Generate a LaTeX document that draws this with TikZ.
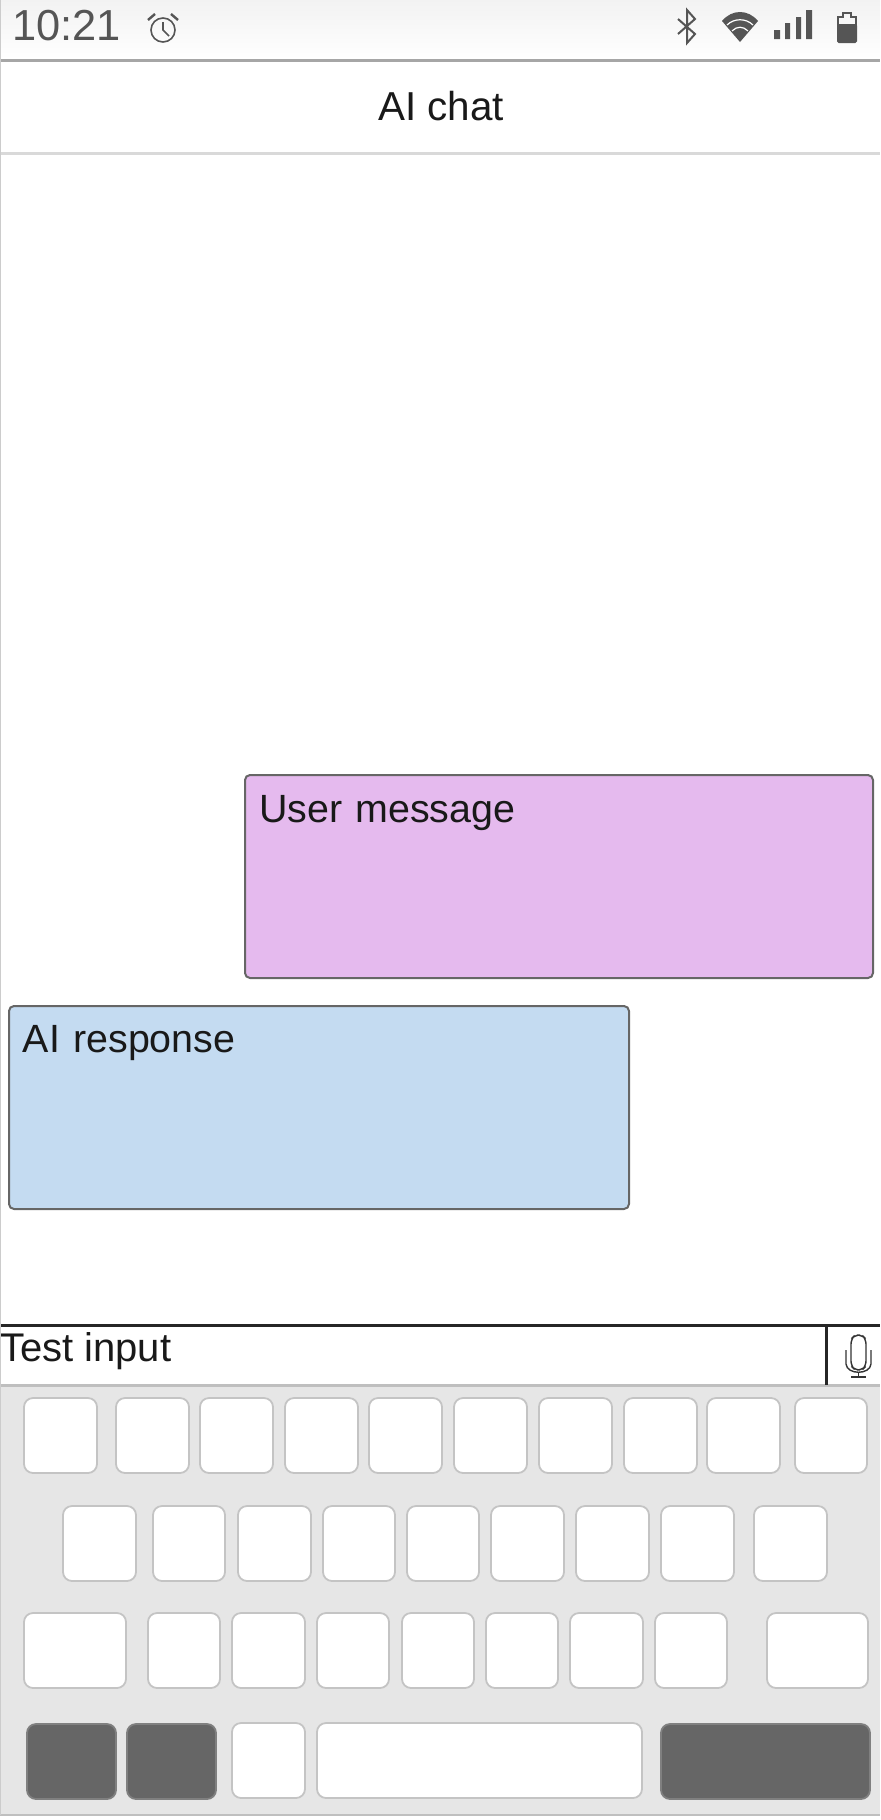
\documentclass[tikz,border=0pt]{standalone}
\usepackage{fontspec}
\setmainfont{Liberation Sans}
\usepackage{tikz}
\definecolor{chatlilac}{RGB}{229,186,238}
\definecolor{chatblue}{RGB}{196,219,241}
\definecolor{keypanel}{RGB}{230,230,230}
\definecolor{keyedge}{RGB}{196,196,196}
\definecolor{icongray}{RGB}{85,85,85}

\begin{document}
\begin{tikzpicture}[
    x=0.5pt, y=-0.5pt,
    every node/.style={inner sep=0pt, outer sep=0pt},
    bubble/.style={draw=black!60, line width=1pt, rounded corners=2.5pt, anchor=north west, align=left, inner xsep=7pt, font=\fontsize{19.7}{23}\selectfont, text=black!90},
    keybox/.style={draw=keyedge, line width=0.9pt, fill=white, rounded corners=4.5pt, anchor=north west, minimum height=37.5pt},
    darkkey/.style={keybox, draw=black!50, fill=black!60},
    barline/.style={line width=1.5pt},
    icon/.style={draw=icongray, line width=0.8pt}
  ]
    \useasboundingbox (0,0) rectangle (880,1820);

    % status bar and title
    \node[anchor=north west, minimum width=440pt, minimum height=29.5pt, top color=black!5, bottom color=white] (statusbar) at (0,0) {};
    \node[anchor=base west, font=\fontsize{21.7}{24}\selectfont, text=icongray] (clock) at (12,40) {10:21};
    \node[font=\fontsize{20.2}{24}\selectfont, text=black!90] (title) at (441,106) {AI chat};
    \draw[barline, draw=black!35] (0,60) -- (880,60);
    \draw[barline, draw=black!15] (0,153) -- (880,153);

    % status icons
    \draw[icon] (163,30) circle (12);
    \draw[icon] (163,22) -- (163,30) -- (169,36);
    \draw[icon, line width=1.2pt] (148,20) -- (155,14);
    \draw[icon, line width=1.2pt] (178,20) -- (171,14);
    \draw[icon, line width=1pt] (678,19) -- (695,34) -- (687,43) -- (687,10) -- (695,19) -- (678,34);
    \fill[icongray] (740,42) -- (722,21) .. controls (732,9) and (748,9) .. (758,21) -- cycle;
    \draw[white, line width=0.6pt] (727,25) .. controls (734,18) and (746,18) .. (753,25);
    \draw[white, line width=0.6pt] (732,31) .. controls (737,26) and (743,26) .. (748,31);
    \fill[icongray] (774,30) rectangle (780,39) (785,23) rectangle (790,39) (796,17) rectangle (801,39) (806,10) rectangle (812,39);
    \fill[icongray, rounded corners=0.8pt] (837,24) rectangle (857,43);
    \draw[icon] (838,26) -- (838,17) -- (843,17) -- (843,13) -- (851,13) -- (851,17) -- (856,17) -- (856,26);

    % messages
    \node[bubble, fill=chatlilac, text width=300pt, text height=23.5pt, text depth=78pt] (usermsg) at (245,775) {User message};
    \node[bubble, fill=chatblue, text width=296pt, text height=23pt, text depth=78.5pt] (airesp) at (9,1006) {AI response};

    % input row
    \node[anchor=north west, minimum width=440pt, minimum height=215pt, fill=keypanel] (keyboard) at (0,1385) {};
    \node[anchor=base west, font=\fontsize{20}{23}\selectfont, text=black!90] (testinput) at (0,1361) {Test input};
    \draw[barline, draw=black!85] (0,1325) -- (880,1325);
    \draw[barline, draw=black!25] (0,1385) -- (880,1385);
    \draw[barline, draw=black!85] (826,1325) -- (826,1385);
    \draw[line width=1pt, draw=black!25] (0,1815) -- (880,1815);
    \draw[line width=0.7pt, draw=black!80, rounded corners=2.5pt] (851,1366) -- (851,1339) -- (855,1335) -- (862,1335) -- (866,1339) -- (866,1366) -- (862,1370) -- (855,1370) -- cycle;
    \draw[line width=0.7pt, draw=black!80] (846,1350) -- (846,1364) .. controls (847,1375) and (870,1375) .. (871,1364) -- (871,1350);
    \draw[line width=0.8pt, draw=black!80] (858.5,1372) -- (858.5,1376) (851,1377) -- (866,1377);

    % keys
    \foreach \x/\w [count=\i] in {24/73,116/73,200/73,285/73,369/73,454/73,539/73,624/73,707/73,795/72}
      \node[keybox, minimum width=\w*0.5pt] (rowa\i) at (\x,1398) {};
    \foreach \x/\w [count=\i] in {63/73,153/72,238/73,323/72,407/72,491/73,576/73,661/73,754/73}
      \node[keybox, minimum width=\w*0.5pt] (rowb\i) at (\x,1506) {};
    \foreach \x/\w [count=\i] in {24/102,148/72,232/73,317/72,402/72,486/72,570/73,655/72,767/101}
      \node[keybox, minimum width=\w*0.5pt] (rowc\i) at (\x,1613) {};
    \node[darkkey, minimum width=44.5pt] (rowd1) at (27,1724) {};
    \node[darkkey, minimum width=44.5pt] (rowd2) at (127,1724) {};
    \node[keybox, minimum width=36.5pt] (rowd3) at (232,1723) {};
    \node[keybox, minimum width=162.5pt] (rowd4) at (317,1723) {};
    \node[darkkey, minimum width=104.5pt] (rowd5) at (661,1724) {};

    \draw[line width=0.7pt, draw=black!20] (0.7,0) -- (0.7,1815);
  \end{tikzpicture}
\end{document}
